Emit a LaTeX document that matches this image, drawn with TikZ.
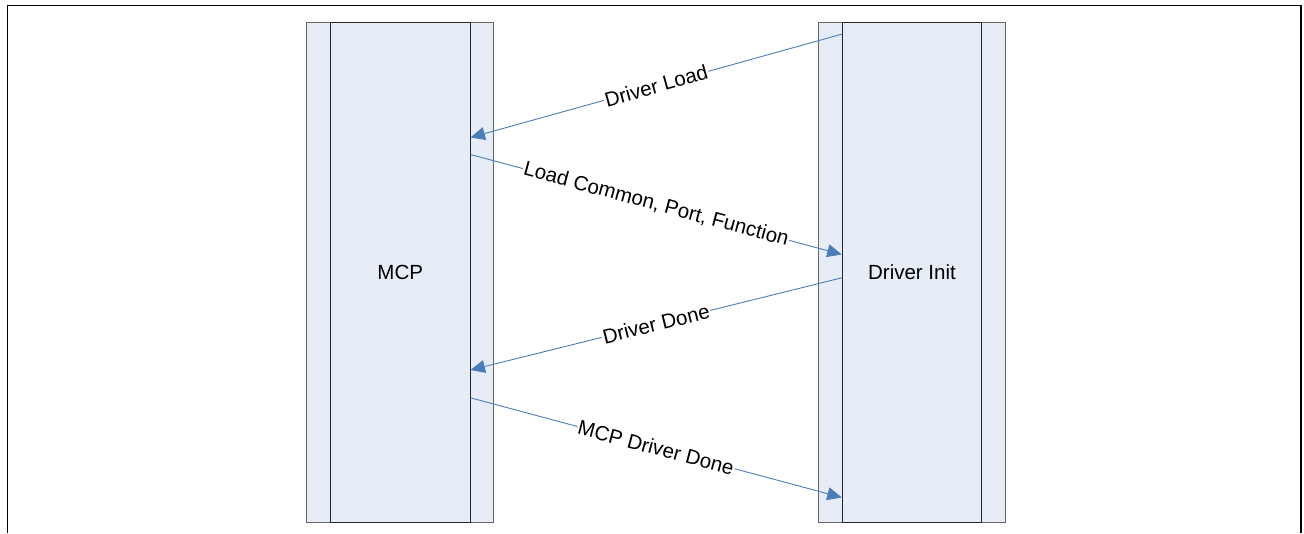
\documentclass[tikz,border=0pt]{standalone}
\usepackage{fontspec}
\setmainfont{Liberation Sans}
\usetikzlibrary{arrows.meta}
\definecolor{lanefill}{RGB}{230,237,247}
\definecolor{msgblue}{RGB}{74,126,187}
\tikzset{
  lane/.style={draw=black!60, fill=lanefill, line width=1pt, minimum width=187pt, minimum height=499.3pt, inner sep=0pt},
  lanecore/.style={draw=black!85, fill=lanefill, line width=1pt, minimum width=139.5pt, minimum height=499.3pt, inner sep=0pt,
    font=\fontsize{20.5}{24}\selectfont},
  msg/.style={draw=msgblue, line width=0.9pt, -{Triangle[length=14.5pt, width=13pt]}},
  msglabel/.style={midway, sloped, fill=white, inner sep=1pt, text=black, font=\fontsize{20.5}{24}\selectfont},
  frameline/.style={line width=1.8pt, draw=black}
}
\begin{document}
\begin{tikzpicture}[x=1pt, y=1pt]
  \useasboundingbox (0,0) rectangle (1304,533);
  % open frame
  \draw[frameline] (7.5,0) -- (7.5,527.5) -- (1301,527.5) -- (1301,0);

  % MCP lane
  \node[lane] (mcp) at (400,260.65) {};
  \node[lanecore] (mcpin) at (400.25,260.65) {MCP};

  % Driver Init lane
  \node[lane] (drv) at (912,260.65) {};
  \node[lanecore] (drvin) at (912,260.65) {Driver Init};

  % message anchor points on the lane edges
  \coordinate (d1) at ([yshift=-12pt]drvin.north west);
  \coordinate (m1) at ([yshift=-115.3pt]mcpin.north east);
  \coordinate (m2) at ([yshift=-132.3pt]mcpin.north east);
  \coordinate (d2) at ([yshift=-232.3pt]drvin.north west);
  \coordinate (d3) at ([yshift=-255.6pt]drvin.north west);
  \coordinate (m3) at ([yshift=-347.8pt]mcpin.north east);
  \coordinate (m4) at ([yshift=-375.6pt]mcpin.north east);
  \coordinate (d4) at ([yshift=-475.3pt]drvin.north west);

  % messages
  \draw[msg] (d1) -- node[msglabel] {Driver Load} (m1);
  \draw[msg] (m2) -- node[msglabel] {Load Common, Port, Function} (d2);
  \draw[msg] (d3) -- node[msglabel] {Driver Done} (m3);
  \draw[msg] (m4) -- node[msglabel] {MCP Driver Done} (d4);
\end{tikzpicture}
\end{document}
